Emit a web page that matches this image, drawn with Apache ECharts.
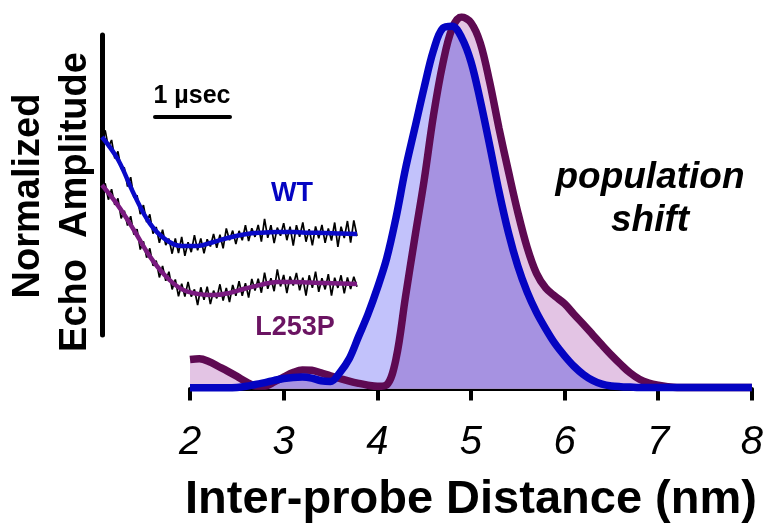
<!DOCTYPE html>
<html>
<head>
<meta charset="utf-8">
<script src="https://cdn.jsdelivr.net/npm/echarts@6/dist/echarts.min.js"></script>
<style>
  html, body { margin: 0; padding: 0; background: #fff; }
  #chart { width: 766px; height: 529px; }
</style>
</head>
<body>
<div id="chart"></div>
<script>
// distance distribution, P(r) (nm)
var distNm = [2.0,2.1,2.2,2.3,2.4,2.5,2.6,2.7,2.8,2.9,3.0,3.1,3.2,3.3,3.4,3.5,3.6,3.7,3.8,3.9,
  4.0,4.1,4.2,4.3,4.4,4.5,4.6,4.7,4.8,4.9,5.0,5.1,5.2,5.3,5.4,5.5,5.6,5.7,5.8,5.9,
  6.0,6.1,6.2,6.3,6.4,6.5,6.6,6.7,6.8,6.9,7.0,7.1,7.2,7.3,7.4,7.5,7.6,7.7,7.8,7.9,8.0];
var wtDist = [0.002,0.002,0.002,0.002,0.002,0.003,0.006,0.011,0.016,0.022,0.027,0.03,0.031,0.028,0.021,0.019,0.043,0.08,0.14,0.20,
  0.27,0.35,0.46,0.59,0.70,0.81,0.91,0.97,0.975,0.945,0.88,0.775,0.655,0.53,0.42,0.33,0.26,0.205,0.16,0.12,
  0.088,0.06,0.038,0.022,0.012,0.007,0.005,0.004,0.003,0.003,0.003,0.003,0.003,0.003,0.003,0.003,0.003,0.003,0.003,0.003,0.003];
var l253pDist = [0.078,0.08,0.073,0.06,0.047,0.033,0.018,0.007,0.007,0.018,0.031,0.043,0.05,0.049,0.042,0.034,0.027,0.02,0.014,0.009,
  0.006,0.01,0.08,0.245,0.405,0.56,0.735,0.875,0.97,1.0,0.985,0.93,0.825,0.70,0.585,0.475,0.38,0.31,0.27,0.248,
  0.228,0.2,0.173,0.145,0.117,0.09,0.065,0.042,0.025,0.015,0.009,0.005,0.003,0.003,0.003,0.003,0.003,0.003,0.003,0.003,0.003];
var distTicks = [2, 3, 4, 5, 6, 7, 8];

// inset: DEER echo, fits (µs)
var fitTime = [0,0.2,0.4,0.6,0.8,1.0,1.2,1.4,1.6,1.8,2.0,2.2,2.4,2.6,2.8,3.0,3.2];
var wtFit = [0.66,0.585,0.47,0.372,0.318,0.297,0.297,0.31,0.325,0.336,0.341,0.343,0.343,0.341,0.34,0.338,0.337];
var l253pFit = [0.5,0.432,0.35,0.262,0.196,0.153,0.137,0.133,0.14,0.155,0.168,0.177,0.177,0.175,0.173,0.172,0.17];

// inset: raw (noisy) echo data
var rawTime = [0,0.04,0.08,0.12,0.16,0.2,0.24,0.28,0.32,0.36,0.4,0.44,0.48,0.52,0.56,0.6,0.64,0.68,0.72,0.76,
  0.8,0.84,0.88,0.92,0.96,1.0,1.04,1.08,1.12,1.16,1.2,1.24,1.28,1.32,1.36,1.4,1.44,1.48,1.52,1.56,
  1.6,1.64,1.68,1.72,1.76,1.8,1.84,1.88,1.92,1.96,2.0,2.04,2.08,2.12,2.16,2.2,2.24,2.28,2.32,2.36,
  2.4,2.44,2.48,2.52,2.56,2.6,2.64,2.68,2.72,2.76,2.8,2.84,2.88,2.92,2.96,3.0,3.04,3.08,3.12,3.16,3.2];
var wtRaw = [0.668,0.682,0.626,0.650,0.589,0.612,0.554,0.558,0.495,0.526,0.458,0.465,0.403,0.433,0.376,0.402,0.338,0.360,0.307,0.351,
  0.300,0.321,0.271,0.322,0.273,0.327,0.264,0.309,0.276,0.333,0.282,0.322,0.272,0.319,0.295,0.337,0.291,0.334,0.289,0.355,
  0.316,0.348,0.303,0.347,0.316,0.366,0.313,0.356,0.327,0.367,0.311,0.387,0.324,0.366,0.306,0.358,0.331,0.373,0.316,0.361,
  0.298,0.366,0.327,0.375,0.311,0.353,0.299,0.362,0.322,0.367,0.307,0.355,0.315,0.375,0.294,0.361,0.323,0.380,0.308,0.382,0.330];
var l253pRaw = [0.493,0.505,0.451,0.486,0.434,0.455,0.389,0.414,0.365,0.396,0.335,0.353,0.285,0.312,0.258,0.289,0.231,0.248,0.192,0.230,
  0.181,0.211,0.152,0.185,0.129,0.171,0.128,0.177,0.128,0.152,0.100,0.159,0.117,0.161,0.103,0.148,0.122,0.169,0.115,0.157,
  0.110,0.167,0.131,0.179,0.131,0.173,0.125,0.187,0.148,0.188,0.141,0.208,0.154,0.189,0.146,0.219,0.162,0.200,0.140,0.195,
  0.165,0.207,0.149,0.191,0.131,0.199,0.157,0.211,0.144,0.189,0.152,0.203,0.131,0.191,0.157,0.199,0.139,0.192,0.153,0.194,0.161];

var FONT = 'Liberation Sans';
var BLUE = '#0404c2';
var PURPLE = '#5e0a52';

function pairs(xs, ys) {
  var out = [];
  for (var i = 0; i < xs.length; i++) out.push([xs[i], ys[i]]);
  return out;
}
// part of the distributions that both share (drawn darker)
var overlap = [];
for (var i = 0; i < distNm.length; i++) overlap.push(Math.min(wtDist[i], l253pDist[i]));

var chart = echarts.init(document.getElementById('chart'));
var option = {
  animation: false,
  backgroundColor: '#ffffff',
  grid: [
    { left: 190, right: 13, top: 17, bottom: 124 },
    { left: 102, right: 409, top: 35, bottom: 194 }
  ],
  xAxis: [
    {
      gridIndex: 0, type: 'value', min: 2, max: 8, interval: 1,
      name: 'Inter-probe Distance (nm)', nameLocation: 'middle', nameGap: 84,
      nameTextStyle: { fontFamily: FONT, fontSize: 47, fontWeight: 'bold', color: '#000' },
      axisLine: { lineStyle: { color: '#000', width: 4 } },
      axisTick: { show: true, length: 12, lineStyle: { color: '#000', width: 4 } },
      axisLabel: {
        margin: 30, fontFamily: FONT, fontSize: 40, fontStyle: 'italic', color: '#000',
        formatter: function (v) { return distTicks.indexOf(v) >= 0 ? String(v) : ''; }
      },
      splitLine: { show: false }
    },
    { gridIndex: 1, type: 'value', min: 0, max: 3.2, show: false }
  ],
  yAxis: [
    { gridIndex: 0, type: 'value', min: -0.012, max: 1.0, show: false },
    {
      gridIndex: 1, type: 'value', min: 0, max: 1,
      axisLine: { show: true, lineStyle: { color: '#000', width: 5 } },
      axisTick: { show: false }, axisLabel: { show: false }, splitLine: { show: false }
    }
  ],
  series: [
    { type: 'line', xAxisIndex: 0, yAxisIndex: 0, data: pairs(distNm, wtDist), smooth: 0.35,
      symbol: 'none', lineStyle: { width: 0 }, areaStyle: { color: '#c2c2fb', opacity: 1 }, z: 1 },
    { type: 'line', xAxisIndex: 0, yAxisIndex: 0, data: pairs(distNm, l253pDist), smooth: 0.35,
      symbol: 'none', lineStyle: { width: 0 }, areaStyle: { color: '#e3c4e4', opacity: 1 }, z: 2 },
    { type: 'line', xAxisIndex: 0, yAxisIndex: 0, data: pairs(distNm, overlap), smooth: 0.35,
      symbol: 'none', lineStyle: { width: 0 }, areaStyle: { color: '#a692e1', opacity: 1 }, z: 3 },
    { name: 'L253P', type: 'line', xAxisIndex: 0, yAxisIndex: 0, data: pairs(distNm, l253pDist), smooth: 0.35,
      symbol: 'none', lineStyle: { color: PURPLE, width: 7.5 }, z: 4 },
    { name: 'WT', type: 'line', xAxisIndex: 0, yAxisIndex: 0, data: pairs(distNm, wtDist), smooth: 0.35,
      symbol: 'none', lineStyle: { color: BLUE, width: 7.5 }, z: 5 },

    // inset
    { type: 'line', xAxisIndex: 1, yAxisIndex: 1, data: pairs(rawTime, wtRaw),
      symbol: 'none', lineStyle: { color: '#000', width: 1.7 }, z: 6 },
    { type: 'line', xAxisIndex: 1, yAxisIndex: 1, data: pairs(rawTime, l253pRaw),
      symbol: 'none', lineStyle: { color: '#000', width: 1.7 }, z: 6 },
    { type: 'line', xAxisIndex: 1, yAxisIndex: 1, data: pairs(fitTime, wtFit), smooth: 0.4,
      symbol: 'none', lineStyle: { color: '#0a0ac8', width: 4.5 }, z: 7 },
    { type: 'line', xAxisIndex: 1, yAxisIndex: 1, data: pairs(fitTime, l253pFit), smooth: 0.4,
      symbol: 'none', lineStyle: { color: '#7a1a80', width: 4.5 }, z: 7 }
  ],
  graphic: [
    { type: 'text', x: 29, y: 196, rotation: Math.PI / 2,
      style: { text: 'Normalized', fontFamily: FONT, fontSize: 38, fontWeight: 'bold', fill: '#000', align: 'center', verticalAlign: 'middle' } },
    { type: 'text', x: 76, y: 202, rotation: Math.PI / 2,
      style: { text: 'Echo  Amplitude', fontFamily: FONT, fontSize: 38, fontWeight: 'bold', fill: '#000', align: 'center', verticalAlign: 'middle' } },
    { type: 'text', x: 192, y: 96,
      style: { text: '1 µsec', fontFamily: FONT, fontSize: 25, fontWeight: 'bold', fill: '#000', align: 'center', verticalAlign: 'middle' } },
    { type: 'line', shape: { x1: 155, y1: 117, x2: 230, y2: 117 },
      style: { stroke: '#000', lineWidth: 4, lineCap: 'round' } },
    { type: 'text', x: 292, y: 194,
      style: { text: 'WT', fontFamily: FONT, fontSize: 27, fontWeight: 'bold', fill: BLUE, align: 'center', verticalAlign: 'middle' } },
    { type: 'text', x: 295, y: 328,
      style: { text: 'L253P', fontFamily: FONT, fontSize: 27, fontWeight: 'bold', fill: '#6b1462', align: 'center', verticalAlign: 'middle' } },
    { type: 'text', x: 650, y: 178,
      style: { text: 'population', fontFamily: FONT, fontSize: 37, fontWeight: 'bold', fontStyle: 'italic', fill: '#000', align: 'center', verticalAlign: 'middle' } },
    { type: 'text', x: 650, y: 221,
      style: { text: 'shift', fontFamily: FONT, fontSize: 37, fontWeight: 'bold', fontStyle: 'italic', fill: '#000', align: 'center', verticalAlign: 'middle' } }
  ]
};
chart.setOption(option);
</script>
</body>
</html>
